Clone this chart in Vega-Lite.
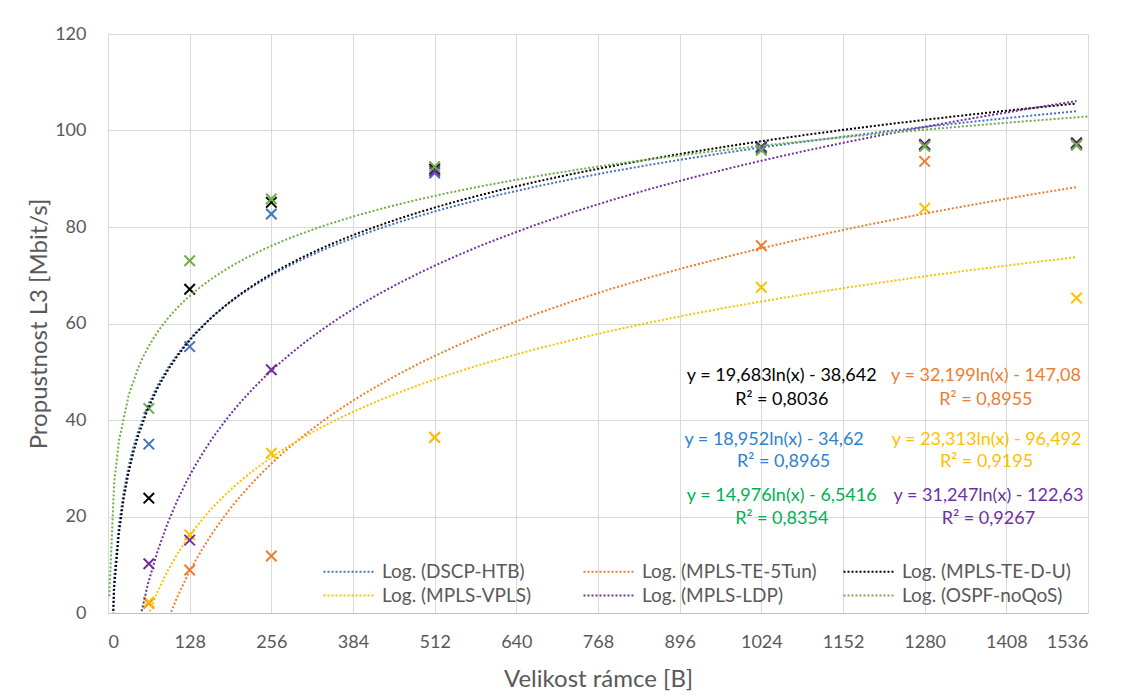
{
  "$schema": "https://vega.github.io/schema/vega-lite/v6.json",
  "width": 980,
  "height": 579,
  "autosize": {"type": "none"},
  "padding": {"left": 108, "top": 34, "right": 35, "bottom": 82},
  "config": {
    "font": "Lato",
    "view": {"stroke": null},
    "axis": {
      "gridColor": "#D9D9D9",
      "gridWidth": 1,
      "labelColor": "#595959",
      "titleColor": "#595959",
      "labelFontSize": 18,
      "titleFontSize": 24,
      "titleFontWeight": "normal",
      "ticks": false
    },
    "legend": {
      "labelColor": "#595959",
      "labelFontSize": 19,
      "labelLimit": 400
    }
  },
  "datasets": {
    "pts": [
      {"s": "DSCP-HTB", "x": 64, "y": 35.0},
      {"s": "DSCP-HTB", "x": 128, "y": 55.2},
      {"s": "DSCP-HTB", "x": 256, "y": 82.7},
      {"s": "DSCP-HTB", "x": 512, "y": 91.2},
      {"s": "DSCP-HTB", "x": 1024, "y": 96.3},
      {"s": "DSCP-HTB", "x": 1280, "y": 96.9},
      {"s": "DSCP-HTB", "x": 1518, "y": 97.3},
      {"s": "MPLS-TE-5Tun", "x": 64, "y": 2.0},
      {"s": "MPLS-TE-5Tun", "x": 128, "y": 8.9},
      {"s": "MPLS-TE-5Tun", "x": 256, "y": 11.8},
      {"s": "MPLS-TE-5Tun", "x": 512, "y": 36.4},
      {"s": "MPLS-TE-5Tun", "x": 1024, "y": 76.1},
      {"s": "MPLS-TE-5Tun", "x": 1280, "y": 93.6},
      {"s": "MPLS-TE-5Tun", "x": 1518, "y": 97.0},
      {"s": "MPLS-TE-D-U", "x": 64, "y": 23.8},
      {"s": "MPLS-TE-D-U", "x": 128, "y": 67.1},
      {"s": "MPLS-TE-D-U", "x": 256, "y": 85.1},
      {"s": "MPLS-TE-D-U", "x": 512, "y": 92.0},
      {"s": "MPLS-TE-D-U", "x": 1024, "y": 96.6},
      {"s": "MPLS-TE-D-U", "x": 1280, "y": 97.1},
      {"s": "MPLS-TE-D-U", "x": 1518, "y": 97.4},
      {"s": "MPLS-VPLS", "x": 64, "y": 2.3},
      {"s": "MPLS-VPLS", "x": 128, "y": 16.2},
      {"s": "MPLS-VPLS", "x": 256, "y": 33.1},
      {"s": "MPLS-VPLS", "x": 512, "y": 36.4},
      {"s": "MPLS-VPLS", "x": 1024, "y": 67.5},
      {"s": "MPLS-VPLS", "x": 1280, "y": 83.9},
      {"s": "MPLS-VPLS", "x": 1518, "y": 65.3},
      {"s": "MPLS-LDP", "x": 64, "y": 10.2},
      {"s": "MPLS-LDP", "x": 128, "y": 15.1},
      {"s": "MPLS-LDP", "x": 256, "y": 50.4},
      {"s": "MPLS-LDP", "x": 512, "y": 91.6},
      {"s": "MPLS-LDP", "x": 1024, "y": 96.5},
      {"s": "MPLS-LDP", "x": 1280, "y": 97.0},
      {"s": "MPLS-LDP", "x": 1518, "y": 97.2},
      {"s": "OSPF-noQoS", "x": 64, "y": 42.4},
      {"s": "OSPF-noQoS", "x": 128, "y": 73.0},
      {"s": "OSPF-noQoS", "x": 256, "y": 85.8},
      {"s": "OSPF-noQoS", "x": 512, "y": 92.5},
      {"s": "OSPF-noQoS", "x": 1024, "y": 95.9},
      {"s": "OSPF-noQoS", "x": 1280, "y": 96.7},
      {"s": "OSPF-noQoS", "x": 1518, "y": 97.0}
    ],
    "lbl": [
      {"s": "MPLS-TE-D-U", "t": "y = 19,683ln(x) - 38,642", "lx": 1056, "ly": 49.2},
      {"s": "MPLS-TE-D-U", "t": "R² = 0,8036", "lx": 1056, "ly": 44.2},
      {"s": "MPLS-TE-5Tun", "t": "y = 32,199ln(x) - 147,08", "lx": 1376, "ly": 49.2},
      {"s": "MPLS-TE-5Tun", "t": "R² = 0,8955", "lx": 1376, "ly": 44.2},
      {"s": "DSCP-HTB", "t": "y = 18,952ln(x) - 34,62", "lx": 1044, "ly": 35.9},
      {"s": "DSCP-HTB", "t": "R² = 0,8965", "lx": 1059, "ly": 31.2},
      {"s": "MPLS-VPLS", "t": "y = 23,313ln(x) - 96,492", "lx": 1377, "ly": 35.9},
      {"s": "MPLS-VPLS", "t": "R² = 0,9195", "lx": 1377, "ly": 31.2},
      {"s": "OSPF-noQoS", "t": "y = 14,976ln(x) - 6,5416", "lx": 1056, "ly": 24.3},
      {"s": "OSPF-noQoS", "t": "R² = 0,8354", "lx": 1056, "ly": 19.5},
      {"s": "MPLS-LDP", "t": "y = 31,247ln(x) - 122,63", "lx": 1380, "ly": 24.3},
      {"s": "MPLS-LDP", "t": "R² = 0,9267", "lx": 1380, "ly": 19.5}
    ]
  },
  "layer": [
    {
      "layer": [
        {
          "data": {"name": "pts"},
          "mark": {"type": "point", "shape": "M-1,-1L1,1M-1,1L1,-1", "filled": false, "strokeWidth": 2, "size": 110, "opacity": 1},
          "encoding": {
            "x": {"field": "x", "type": "quantitative", "scale": {"domain": [0, 1536], "nice": false},
              "axis": {"values": [0, 128, 256, 384, 512, 640, 768, 896, 1024, 1152, 1280, 1408, 1536], "format": "d", "title": "Velikost rámce [B]", "grid": true, "domain": true, "domainColor": "#BFBFBF", "labelPadding": 20, "titlePadding": 16, "labelOverlap": false}},
            "y": {"field": "y", "type": "quantitative", "scale": {"domain": [0, 120], "nice": false},
              "axis": {"values": [0, 20, 40, 60, 80, 100, 120], "title": "Propustnost L3 [Mbit/s]", "grid": true, "domain": false, "labelPadding": 22, "titlePadding": 3}},
            "color": {"field": "s", "type": "nominal",
              "scale": {"domain": ["DSCP-HTB", "MPLS-TE-5Tun", "MPLS-TE-D-U", "MPLS-VPLS", "MPLS-LDP", "OSPF-noQoS"], "range": ["#4472C4", "#ED7D31", "#000000", "#FFC000", "#7030A0", "#70AD47"]},
              "legend": {"title": null, "orient": "none", "direction": "horizontal", "legendX": 231, "legendY": 528, "columns": 3, "columnPadding": 22, "rowPadding": 4, "gridAlign": "all", "symbolType": "M-5,0H5", "symbolSize": 100, "symbolStrokeWidth": 2, "symbolDash": [2, 2], "labelOffset": 24, "labelExpr": "'Log. (' + datum.label + ')'"}}
          }
        },
        {
          "data": {"name": "pts"},
          "transform": [
            {"filter": "datum.s != 'OSPF-noQoS'"},
            {"regression": "y", "on": "x", "groupby": ["s"], "method": "log", "extent": [2, 1518]}
          ],
          "mark": {"type": "line", "strokeDash": [2, 2], "strokeWidth": 2, "clip": true},
          "encoding": {
            "x": {"field": "x", "type": "quantitative"},
            "y": {"field": "y", "type": "quantitative"},
            "color": {"field": "s", "type": "nominal",
              "scale": {"domain": ["DSCP-HTB", "MPLS-TE-5Tun", "MPLS-TE-D-U", "MPLS-VPLS", "MPLS-LDP", "OSPF-noQoS"], "range": ["#4472C4", "#ED7D31", "#000000", "#FFC000", "#7030A0", "#70AD47"]},
              "legend": {"title": null, "orient": "none", "direction": "horizontal", "legendX": 231, "legendY": 528, "columns": 3, "columnPadding": 22, "rowPadding": 4, "gridAlign": "all", "symbolType": "M-5,0H5", "symbolSize": 100, "symbolStrokeWidth": 2, "symbolDash": [2, 2], "labelOffset": 24, "labelExpr": "'Log. (' + datum.label + ')'"}}
          }
        },
        {
          "data": {"name": "pts"},
          "transform": [
            {"filter": "datum.s == 'OSPF-noQoS'"},
            {"regression": "y", "on": "x", "groupby": ["s"], "method": "log", "extent": [2, 1536]}
          ],
          "mark": {"type": "line", "strokeDash": [2, 2], "strokeWidth": 2, "clip": true},
          "encoding": {
            "x": {"field": "x", "type": "quantitative"},
            "y": {"field": "y", "type": "quantitative"},
            "color": {"field": "s", "type": "nominal",
              "scale": {"domain": ["DSCP-HTB", "MPLS-TE-5Tun", "MPLS-TE-D-U", "MPLS-VPLS", "MPLS-LDP", "OSPF-noQoS"], "range": ["#4472C4", "#ED7D31", "#000000", "#FFC000", "#7030A0", "#70AD47"]},
              "legend": {"title": null, "orient": "none", "direction": "horizontal", "legendX": 231, "legendY": 528, "columns": 3, "columnPadding": 22, "rowPadding": 4, "gridAlign": "all", "symbolType": "M-5,0H5", "symbolSize": 100, "symbolStrokeWidth": 2, "symbolDash": [2, 2], "labelOffset": 24, "labelExpr": "'Log. (' + datum.label + ')'"}}
          }
        }
      ]
    },
    {
      "data": {"name": "lbl"},
      "mark": {"type": "text", "align": "center", "baseline": "middle", "fontSize": 18},
      "encoding": {
        "x": {"field": "lx", "type": "quantitative"},
        "y": {"field": "ly", "type": "quantitative"},
        "text": {"field": "t", "type": "nominal"},
        "color": {"field": "s", "type": "nominal",
          "scale": {"domain": ["DSCP-HTB", "MPLS-TE-5Tun", "MPLS-TE-D-U", "MPLS-VPLS", "MPLS-LDP", "OSPF-noQoS"], "range": ["#2F80CF", "#ED7D31", "#000000", "#FFC000", "#7030A0", "#00B050"]},
          "legend": null}
      }
    }
  ],
  "resolve": {"scale": {"color": "independent"}}
}
